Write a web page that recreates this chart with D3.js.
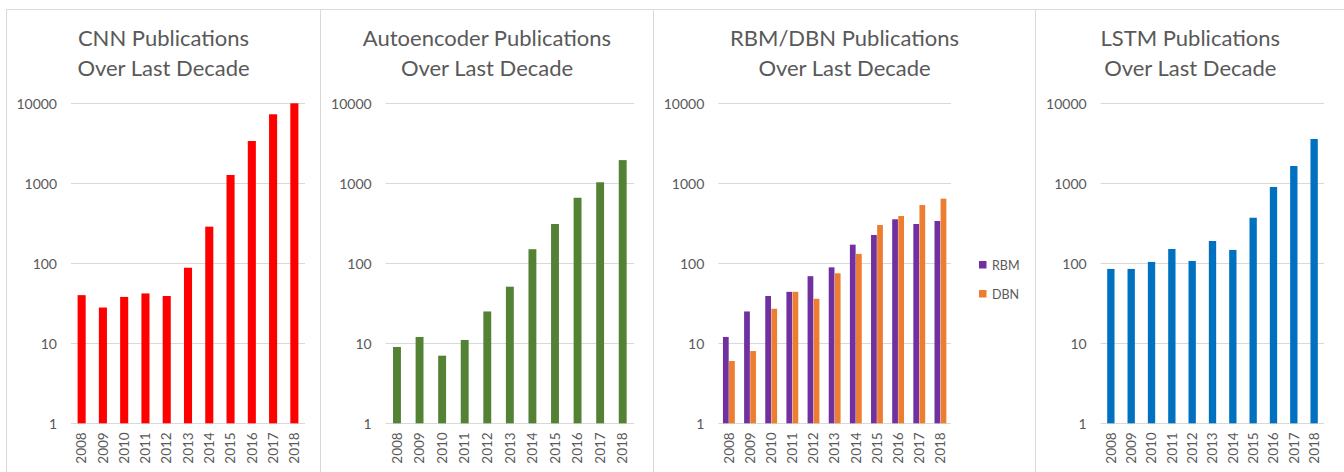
<!DOCTYPE html>
<html>
<head>
<meta charset="utf-8">
<script src="https://cdn.jsdelivr.net/npm/d3@7"></script>
<style>
  html, body { margin: 0; padding: 0; background: #fff; }
  svg { display: block; }
  text { font-family: Lato, "Open Sans", sans-serif; fill: #595959; }
</style>
</head>
<body>
<svg id="chart" width="1344" height="472"></svg>
<script>
// ---------- data ----------
const years = ["2008","2009","2010","2011","2012","2013","2014","2015","2016","2017","2018"];
const yTicks = [1, 10, 100, 1000, 10000];

const cnnValues = [40, 28, 38, 42, 39, 88, 287, 1270, 3380, 7290, 10000];
const autoencoderValues = [9, 12, 7, 11, 25, 51, 150, 310, 660, 1030, 1950];
const rbmValues = [12, 25, 39, 44, 69, 89, 171, 226, 355, 310, 338];
const dbnValues = [6, 8, 27, 44, 36, 75, 131, 301, 390, 535, 643];
const lstmValues = [85, 85, 104, 151, 107, 190, 147, 371, 899, 1645, 3580];

const titles = [
  ["CNN Publications", "Over Last Decade"],
  ["Autoencoder Publications", "Over Last Decade"],
  ["RBM/DBN Publications", "Over Last Decade"],
  ["LSTM Publications", "Over Last Decade"]
];
const seriesNames = ["RBM", "DBN"];

// ---------- layout ----------
const svg = d3.select("#chart");
const yTop = 103.3, yBottom = 423.3;
const y = d3.scaleLog().domain([1, 10000]).range([yBottom, yTop]);

const panels = [
  { left: 6.5, right: 320.5, x0: 71, x1: 305, series: [{ name: "CNN", values: cnnValues, color: "#ff0000" }], barFrac: 0.38 },
  { left: 320.5, right: 653.5, x0: 385.7, x1: 634, series: [{ name: "Autoencoder", values: autoencoderValues, color: "#548235" }], barFrac: 0.35 },
  { left: 653.5, right: 1035.5, x0: 718.3, x1: 951, series: [
      { name: "RBM", values: rbmValues, color: "#7030a0" },
      { name: "DBN", values: dbnValues, color: "#ed7d31" }], barFrac: 0.56, legend: true },
  { left: 1035.5, right: 1345, x0: 1100.7, x1: 1324.3, series: [{ name: "LSTM", values: lstmValues, color: "#0070c0" }], barFrac: 0.36 }
];

// outer frame lines
svg.append("line").attr("x1", 6.5).attr("x2", 1344).attr("y1", 9.5).attr("y2", 9.5)
  .attr("stroke", "#d9d9d9").attr("stroke-width", 1);
[6.5, 320.5, 653.5, 1035.5].forEach(xv => {
  svg.append("line").attr("x1", xv).attr("x2", xv).attr("y1", 9.5).attr("y2", 472)
    .attr("stroke", "#d9d9d9").attr("stroke-width", 1);
});

panels.forEach((p, i) => {
  const g = svg.append("g");
  const x = d3.scaleBand().domain(years).range([p.x0, p.x1]).padding(0);

  // title
  const cx = (p.left + p.right) / 2;
  const t = g.append("text").attr("text-anchor", "middle").attr("font-size", 22);
  t.append("tspan").attr("x", cx).attr("y", 46).text(titles[i][0]);
  t.append("tspan").attr("x", cx).attr("y", 76).text(titles[i][1]);

  // gridlines
  g.selectAll("line.grid").data(yTicks).join("line")
    .attr("class", "grid")
    .attr("x1", p.x0).attr("x2", p.x1)
    .attr("y1", d => Math.round(y(d)) + 0.5).attr("y2", d => Math.round(y(d)) + 0.5)
    .attr("stroke", "#d9d9d9").attr("stroke-width", 1);

  // y axis labels
  const yAxis = d3.axisLeft(y).tickValues(yTicks).tickFormat(d3.format("d")).tickSize(0).tickPadding(0);
  const ya = g.append("g").attr("transform", `translate(${p.x0 - 14},0)`).call(yAxis);
  ya.select(".domain").remove();
  ya.selectAll("text").attr("font-size", 14).attr("fill", "#595959")
    .attr("font-family", "Lato, 'Open Sans', sans-serif").attr("dy", "0.35em");

  // x axis labels
  const xAxis = d3.axisBottom(x).tickSize(0).tickPadding(0);
  const xa = g.append("g").attr("transform", `translate(0,${yBottom + 9})`).call(xAxis);
  xa.select(".domain").remove();
  xa.selectAll("text")
    .attr("font-size", 13.5).attr("fill", "#595959")
    .attr("font-family", "Lato, 'Open Sans', sans-serif")
    .attr("transform", "rotate(-90)")
    .attr("text-anchor", "end")
    .attr("x", 0).attr("y", 0).attr("dx", 0).attr("dy", "0.35em");

  // bars
  const groupW = x.bandwidth() * p.barFrac;
  const inner = d3.scaleBand().domain(p.series.map(s => s.name)).range([0, groupW]).paddingInner(p.series.length > 1 ? 0.06 : 0);
  p.series.forEach(s => {
    g.selectAll(null).data(years.map((yr, k) => ({ yr, v: s.values[k] }))).join("rect")
      .attr("x", d => x(d.yr) + (x.bandwidth() - groupW) / 2 + inner(s.name))
      .attr("width", inner.bandwidth())
      .attr("y", d => y(d.v))
      .attr("height", d => y(1) - y(d.v))
      .attr("fill", s.color);
  });

  // legend
  if (p.legend) {
    const lg = g.append("g");
    p.series.forEach((s, k) => {
      lg.append("rect").attr("x", 979).attr("y", 261 + k * 29).attr("width", 7.5).attr("height", 7.5).attr("fill", s.color);
      lg.append("text").attr("x", 992).attr("y", 269.5 + k * 29).attr("font-size", 12.5).text(seriesNames[k]);
    });
  }
});
</script>
</body>
</html>
